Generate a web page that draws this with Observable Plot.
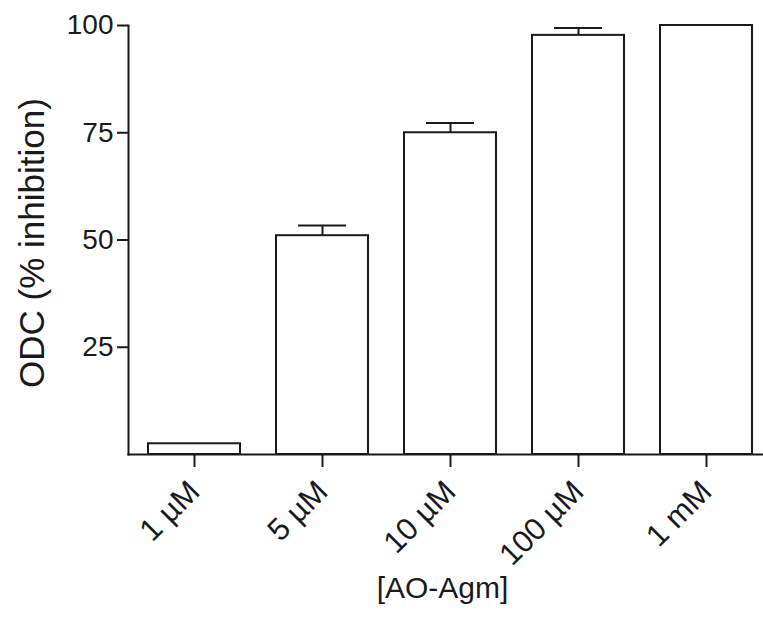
<!DOCTYPE html>
<html><head><meta charset="utf-8">
<script src="https://cdn.jsdelivr.net/npm/d3@7"></script>
<script src="https://cdn.jsdelivr.net/npm/@observablehq/plot@0.6"></script>
<style>body{margin:0;background:#fff}</style>
</head><body><div id="chart"></div>
<script>
const concentrations = ["1 µM", "5 µM", "10 µM", "100 µM", "1 mM"];
const inhibition = [2.5, 51, 75, 97.7, 100];
const sem = [0, 2.4, 2.3, 1.7, 0];
const yTicks = [25, 50, 75, 100];
const xLabel = "[AO-Agm]";
const yLabel = "ODC (% inhibition)";

const data = concentrations.map((c, i) => ({conc: c, value: inhibition[i], err: sem[i]}));
const errData = data.filter(d => d.err > 0);
const ink = "#1a1a1a";

const plot = Plot.plot({
  width: 763, height: 626,
  marginLeft: 128, marginRight: -9, marginTop: 25, marginBottom: 172,
  style: {fontFamily: "'Liberation Sans', Arial, sans-serif", color: ink, background: "#fff"},
  x: {domain: concentrations, paddingInner: 0.28, paddingOuter: 0.14},
  y: {domain: [0, 100]},
  marks: [
    Plot.ruleX(errData, {x: "conc", y1: "value", y2: d => d.value + d.err, stroke: ink, strokeWidth: 2}),
    Plot.tickY(errData, {x: "conc", y: d => d.value + d.err, insetLeft: 22, insetRight: 22, stroke: ink, strokeWidth: 2}),
    Plot.barY(data, {x: "conc", y: "value", fill: "white", stroke: ink, strokeWidth: 2}),
    Plot.frame({anchor: "left", stroke: ink, strokeWidth: 2}),
    Plot.frame({anchor: "bottom", stroke: ink, strokeWidth: 2}),
    Plot.axisY({ticks: yTicks, tickSize: 11, tickPadding: 4, fontSize: 28, label: null, tickFormat: d => String(d), strokeWidth: 2}),
    Plot.axisX({tickSize: 13, tickRotate: -45, tickPadding: 19, fontSize: 31, label: null, strokeWidth: 2}),
    Plot.text([xLabel], {frameAnchor: "bottom", lineAnchor: "middle", dx: -8, dy: 134, fontSize: 30, fill: ink}),
    Plot.text([yLabel], {frameAnchor: "left", textAnchor: "middle", rotate: -90, dx: -96, dy: 3, fontSize: 35, fill: ink})
  ]
});
document.getElementById("chart").appendChild(plot);
</script>
</body></html>
